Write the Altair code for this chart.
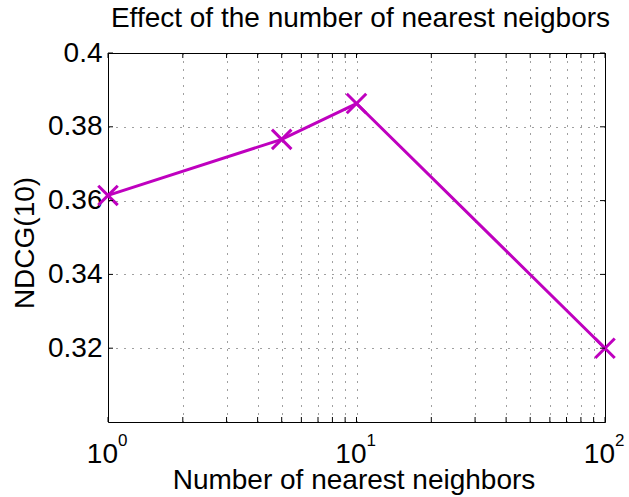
import altair as alt
import pandas as pd

# NDCG(10) for each neighbourhood size
neighbors = [1, 5, 10, 100]
ndcg = [0.3614, 0.3766, 0.3863, 0.3200]

# log-axis tick positions (decades plus minor ticks) and y ticks
x_ticks = [1, 2, 3, 4, 5, 6, 7, 8, 9, 10, 20, 30, 40, 50, 60, 70, 80, 90, 100]
y_ticks = [0.32, 0.34, 0.36, 0.38, 0.40]
decades = [1, 10, 100]
decade_base = ["10", "10", "10"]
decade_exp = ["0", "1", "2"]
title_text = ["Effect of the number of nearest neigbors"]

W, H = 497, 369
FONT = "Liberation Sans"
MAGENTA = "#BF00BF"
TICK = 5

x_scale = alt.Scale(type="log", domain=[1, 100], nice=False)
y_scale = alt.Scale(domain=[0.30, 0.40], nice=False, zero=False)

df = pd.DataFrame({"k": neighbors, "ndcg": ndcg})
xt = pd.DataFrame({"k": x_ticks})
yt = pd.DataFrame({"ndcg": y_ticks})
dec = pd.DataFrame({"k": decades, "base": decade_base, "exp": decade_exp})
ttl = pd.DataFrame({"t": title_text})

grid_style = dict(gridDash=[1, 7], gridColor="black", gridOpacity=0.75, gridWidth=1)

x_axis = alt.Axis(
    values=x_ticks, grid=True, labels=False, ticks=False, domain=False,
    title="Number of nearest neighbors", titleFont=FONT, titleFontSize=28,
    titleFontWeight="normal", titleColor="black", titleX=W / 2 - 3, titleY=66,
    titleBaseline="alphabetic", titleAlign="center", **grid_style,
)
y_axis = alt.Axis(
    values=y_ticks, grid=True, ticks=False, domain=False, format=".2~f",
    labelFont=FONT, labelFontSize=28, labelColor="black", labelPadding=6,
    title="NDCG(10)", titleFont=FONT, titleFontSize=28, titleFontWeight="normal",
    titleColor="black", titleAngle=-90, titleX=-75, titleY=H / 2 + 5,
    titleAlign="center", titleBaseline="alphabetic", **grid_style,
)

X = alt.X("k:Q", scale=x_scale, axis=x_axis)
Y = alt.Y("ndcg:Q", scale=y_scale, axis=y_axis)

line = alt.Chart(df).mark_line(color=MAGENTA, strokeWidth=3).encode(x=X, y=Y)

points = alt.Chart(df).mark_point(
    shape="M-1,-1L1,1M-1,1L1,-1", size=380, filled=False,
    strokeWidth=3, color=MAGENTA, opacity=1,
).encode(x=X, y=Y)

# inward tick marks on all four sides
xb = alt.Chart(xt).mark_rule(color="black", strokeWidth=1).encode(
    x=X, y=alt.value(H), y2=alt.value(H - TICK),
)
xtop = alt.Chart(xt).mark_rule(color="black", strokeWidth=1).encode(
    x=X, y=alt.value(0), y2=alt.value(TICK),
)
yl = alt.Chart(yt).mark_rule(color="black", strokeWidth=1).encode(
    y=Y, x=alt.value(0), x2=alt.value(TICK),
)
yr = alt.Chart(yt).mark_rule(color="black", strokeWidth=1).encode(
    y=Y, x=alt.value(W), x2=alt.value(W - TICK),
)

# decade labels drawn as 10 with a raised exponent
base_lbl = alt.Chart(dec).mark_text(
    font=FONT, fontSize=28, align="right", baseline="alphabetic", dx=10, color="black",
).encode(x=X, y=alt.value(410), text="base:N")
exp_lbl = alt.Chart(dec).mark_text(
    font=FONT, fontSize=17, align="left", baseline="alphabetic", dx=10, color="black",
).encode(x=X, y=alt.value(393), text="exp:N")

title = alt.Chart(ttl).mark_text(
    font=FONT, fontSize=28, align="center", baseline="alphabetic", color="black",
).encode(x=alt.value(W / 2 + 4), y=alt.value(-26), text="t:N")

chart = alt.layer(
    line, points, xb, xtop, yl, yr, base_lbl, exp_lbl, title
).properties(
    width=W, height=H,
    autosize=alt.AutoSizeParams(type="none"),
    padding={"left": 108, "top": 53, "right": 24, "bottom": 75},
    background="white",
).configure_view(
    stroke="black", strokeWidth=1, fill="white",
)

chart.save("out.html", embed_options={"renderer": "svg", "actions": False})
